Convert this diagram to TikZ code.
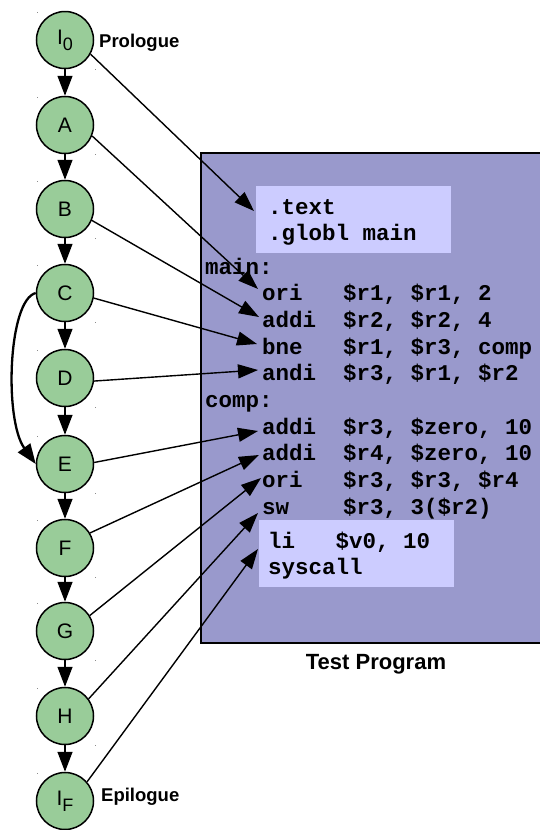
\documentclass[tikz,border=0pt]{standalone}
\usepackage{fontspec}
\setmainfont{Liberation Sans}
\setmonofont{Liberation Mono}
\usetikzlibrary{arrows.meta}
\definecolor{stepgreen}{RGB}{153,204,153}
\definecolor{progfill}{RGB}{153,153,204}
\definecolor{secfill}{RGB}{204,204,255}
\begin{document}
\begin{tikzpicture}[x=1pt,y=-1pt,
  stepnode/.style={circle,draw=black,line width=1.5pt,fill=stepgreen,
    minimum size=57pt,inner sep=0pt,font=\fontsize{21}{21}\selectfont},
  flow/.style={line width=1.4pt,-{Triangle[length=20pt,width=15pt]}},
  link/.style={line width=1.4pt,-{Triangle[length=20pt,width=14pt]}},
  code/.style={anchor=base west,inner sep=0pt,
    font=\fontsize{22.5}{22.5}\selectfont\ttfamily\bfseries},
  tag/.style={anchor=west,inner sep=0pt,font=\fontsize{18.5}{18.5}\selectfont\bfseries},
  handle/.style={fill=black!45,draw=none}]
\useasboundingbox (0,0) rectangle (540,830);

% program listing background
\path[fill=progfill,draw=black,line width=1.6pt] (201,153) rectangle (545,643);
\path[fill=secfill] (256,186) rectangle (451,253);
\path[fill=secfill] (259,520) rectangle (454,587);

% listing text
\node[code] (ltext)  at (268,214) {.text};
\node[code] (lglobl) at (268,240) {.globl main};
\node[code] (lmain)  at (205,274) {main:};
\node[code] (l1) at (262,300.7) {ori~~~\$r1,~\$r1,~2};
\node[code] (l2) at (262,327.4) {addi~~\$r2,~\$r2,~4};
\node[code] (l3) at (262,354.1) {bne~~~\$r1,~\$r3,~comp};
\node[code] (l4) at (262,380.8) {andi~~\$r3,~\$r1,~\$r2};
\node[code] (lcomp) at (205,407.5) {comp:};
\node[code] (l5) at (262,434.2) {addi~~\$r3,~\$zero,~10};
\node[code] (l6) at (262,460.9) {addi~~\$r4,~\$zero,~10};
\node[code] (l7) at (262,487.6) {ori~~~\$r3,~\$r3,~\$r4};
\node[code] (l8) at (262,514.3) {sw~~~~\$r3,~3(\$r2)};
\node[code] (lli) at (268,548) {li~~~\$v0,~10};
\node[code] (lsys) at (268,574) {syscall};

\node[font=\fontsize{22}{22}\selectfont\bfseries] (title) at (376,664) {Test Program};

% steps of the flow
\foreach \n/\y/\t in {I0/40/{I\raisebox{-0.28em}{\fontsize{18}{18}\selectfont 0}},
    A/125/A, B/209/B, C/293/C, D/378/D, E/464/E, F/548/F, G/631/G, H/716/H,
    IF/801/{I\raisebox{-0.28em}{\fontsize{18}{18}\selectfont F}}}{
  \node[stepnode] (\n) at (65,\y) {\t};
  \fill[handle] (36.5,\y-28.5) rectangle ++(1.5,1.5);
  \fill[handle] (94.5,\y+28.5) rectangle ++(1.5,1.5);
}

\node[tag] (pro) at (99,43) {Prologue};
\node[tag] (epi) at (101,797) {Epilogue};

% sequential flow
\foreach \a/\b in {I0/A, A/B, B/C, C/D, D/E, E/F, F/G, G/H, H/IF}
  \draw[flow] (\a) -- (\b);

% branch from C to E
\draw[line width=2.3pt,-{Triangle[length=20pt,width=15pt]}]
  (C.west) .. controls (8,300) and (4,420) .. (E.west);

% arrow targets in the listing
\coordinate (tText) at (254,211);
\coordinate (t1) at (258,289);
\coordinate (t2) at (259,317);
\coordinate (t3) at (257,344);
\coordinate (t4) at (258,370);
\coordinate (t5) at (258,431);
\coordinate (t6) at (259,455);
\coordinate (t7) at (261,478);
\coordinate (t8) at (258,513);
\coordinate (tLi) at (258,549);

\draw[link] (I0.-29) -- (tText);
\draw[link] (A.-22) -- (t1);
\draw[link] (B.-23) -- (t2);
\draw[link] (C.-10) -- (t3);
\draw[link] (D.-6) -- (t4);
\draw[link] (E.3) -- (t5);
\draw[link] (F.31) -- (t6);
\draw[link] (G.32) -- (t7);
\draw[link] (H.36) -- (t8);
\draw[link] (IF.41) -- (tLi);
\end{tikzpicture}
\end{document}
